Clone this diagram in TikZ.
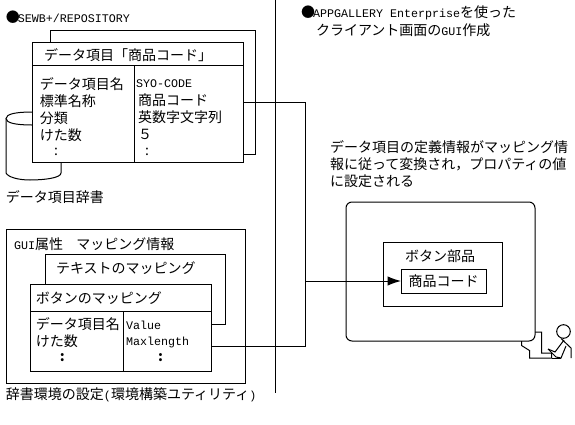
\documentclass[tikz,border=0pt]{standalone}
\usepackage{fontspec}
\setmainfont{Noto Sans CJK JP}
\newfontfamily\ltn{Liberation Mono}
\usepackage{tikz}
\usetikzlibrary{positioning,arrows.meta}
\def\u{0.75pt}
\newcommand{\lt}[1]{{\ltn\fontsize{8.75pt}{12.75pt}\selectfont #1}}
\tikzset{
  blk/.style={rectangle, draw=black, fill=white, line width=0.75pt, outer sep=0pt,
              inner sep=0pt, anchor=north west},
  lbl/.style={font=\fontsize{10.5pt}{12.75pt}\selectfont, inner sep=0pt, outer sep=0pt,
              anchor=west, align=left},
  lin/.style={draw=black, line width=0.75pt},
  ar/.style={-{Latex[length=10pt,width=7pt]}, line width=0.75pt, draw=black},
}
\begin{document}
\begin{tikzpicture}[x=0.75pt, y=-0.75pt]
  \useasboundingbox (0,0) rectangle (575,425);

  % left, dictionary
  \node[lbl] (sewbhead) at (6,17) {●\hspace{-1.5pt}\lt{SEWB+/REPOSITORY}};
  \draw[lin] (32,112) .. controls (16,112) and (6,114) .. (6,118.5) .. controls (6,123) and (16,125) .. (32,125);
  \draw[lin] (6,118.5) -- (6,173) .. controls (8,177) and (18,180) .. (30,180)
    .. controls (44,180) and (61,178) .. (61,173) -- (61,162);
  \node[blk, minimum width=205*\u, minimum height=124*\u] (backbox) at (50,30) {};
  \node[blk, minimum width=211*\u, minimum height=120*\u] (frontbox) at (32,42) {};
  \coordinate (headl) at (32,65);
  \coordinate (headr) at (243,65);
  \coordinate (divt) at (134,65);
  \coordinate (divb) at (134,162);
  \draw[lin] (headl) -- (headr);
  \draw[lin] (divt) -- (divb);
  \node[lbl] (fronthead) at (44,55) {データ項目「商品コード」};
  \node[lbl, anchor=north west] (frontkeys) at (40,77.5) {データ項目名\\標準名称\\分類\\けた数};
  \node[lbl] (frontdots) at (54,152) {:};
  \node[lbl] (rowcode) at (136,84) {\lt{SYO-CODE}};
  \node[lbl, anchor=north west] (frontvals) at (138,94) {商品コード\\英数字文字列\\５};
  \node[lbl] (valdots) at (145,152) {:};
  \node[lbl] (dictname) at (6,197) {データ項目辞書};

  % left, mapping
  \node[blk, minimum width=239*\u, minimum height=154*\u] (envbox) at (6,229) {};
  \node[lbl] (envhead) at (14,244) {\lt{GUI}属性\hspace{10pt}マッピング情報};
  \node[blk, minimum width=180*\u, minimum height=69.5*\u] (textbox) at (45,254.5) {};
  \node[lbl] (texthead) at (56,268) {テキストのマッピング};
  \node[blk, minimum width=181*\u, minimum height=86.5*\u] (mapbox) at (30,284.5) {};
  \coordinate (mapl) at (30,311.5);
  \coordinate (mapr) at (211,311.5);
  \coordinate (mapdt) at (123,311.5);
  \coordinate (mapdb) at (123,371);
  \draw[lin] (mapl) -- (mapr);
  \draw[lin] (mapdt) -- (mapdb);
  \node[lbl] (maphead) at (36,298) {ボタンのマッピング};
  \node[lbl, anchor=north west] (mapkeys) at (36,318) {データ項目名\\けた数};
  \node[lbl, font=\fontsize{10.5pt}{12.75pt}\selectfont\bfseries] (mapdots) at (60,358) {:};
  \node[lbl] (mapvalue) at (126,325) {\lt{Value}};
  \node[lbl] (mapmax) at (126,342) {\lt{Maxlength}};
  \node[lbl, font=\fontsize{10.5pt}{12.75pt}\selectfont\bfseries] (mapvdots) at (158,358) {:};
  \node[lbl] (envname) at (6,395) {辞書環境の設定\lt{(}環境構築ユティリティ\lt{)}};

  % separator
  \coordinate (septop) at (275,0);
  \coordinate (sepbot) at (275,393);
  \draw[lin] (septop) -- (sepbot);

  % right
  \node[lbl] (guihead) at (301,13) {●\hspace{-1.5pt}\lt{APPGALLERY Enterprise}を使った};
  \node[lbl] (guisub) at (316,30) {クライアント画面の\lt{GUI}作成};
  \node[lbl, anchor=north west] (note) at (330,141) {データ項目の定義情報がマッピング情\\報に従って変換され，プロパティの値\\に設定される};
  \node[blk, rounded corners=4.5pt, minimum width=189*\u, minimum height=139*\u] (screen) at (346,202) {};
  \node[blk, minimum width=119*\u, minimum height=64*\u] (btnbox) at (383,242) {};
  \node[lbl] (btnhead) at (405,256) {ボタン部品};
  \node[blk, minimum width=85*\u, minimum height=24*\u, font=\fontsize{10.5pt}{12.75pt}\selectfont] (codebox) at (401,269) {商品コード};

  % connectors
  \coordinate (junctop) at (305,102);
  \coordinate (junctbot) at (305,346);
  \coordinate (mapout) at (211,346);
  \draw[lin] (frontbox.east) -- (junctop) -- (junctbot) -- (mapout);
  \draw[ar] (junctop |- codebox.west) -- (codebox.west);

  % operator at the terminal
  \draw[lin] (535,332) -- (541.5,332) -- (541.5,353) -- (551.5,353) -- (551.5,358) -- (529.5,358)
    -- (529.5,350.5) -- (521.5,345.5) -- (521.5,341);
  \draw[lin, fill=white] (563.5,331.5) circle[radius=6.8];
  \draw[lin] (561,338.5) -- (571,348) -- (571,358);
  \draw[lin] (564,340) -- (558,348) -- (555,352) -- (548,349);
  \draw[lin] (548,349) -- (556,357) -- (561,358) -- (566,346);
  \draw[lin] (561,358) -- (552,358);
\end{tikzpicture}
\end{document}
